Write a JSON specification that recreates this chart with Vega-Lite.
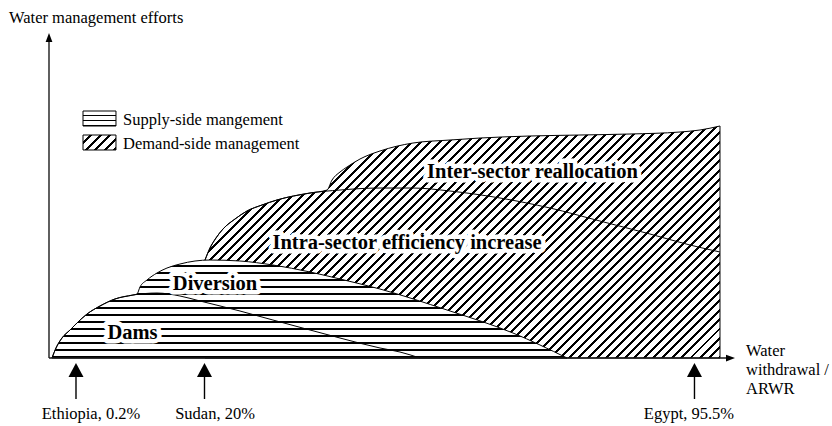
{
 "$schema": "https://vega.github.io/schema/vega-lite/v6.json",
 "width": 832, "height": 426, "autosize": {"type": "none"}, "padding": 0, "background": "#ffffff",
 "config": {"view": {"stroke": null}},
 "datasets": {
  "curves": [
   {"s":"dams","x":-3.5,"y":0},{"s":"dams","x":-2.88,"y":3.1},{"s":"dams","x":-1.96,"y":6.19},{"s":"dams","x":-0.72,"y":8.67},{"s":"dams","x":0.35,"y":10.84},{"s":"dams","x":1.9,"y":13.62},{"s":"dams","x":3.9,"y":16.1},{"s":"dams","x":6.21,"y":18.27},{"s":"dams","x":8.98,"y":19.5},{"s":"dams","x":12.68,"y":20.12},{"s":"dams","x":16.22,"y":19.2},{"s":"dams","x":19.31,"y":17.65},{"s":"dams","x":25.47,"y":14.55},{"s":"dams","x":30.55,"y":11.76},{"s":"dams","x":36.26,"y":8.67},{"s":"dams","x":40.88,"y":6.19},{"s":"dams","x":47.04,"y":3.1},{"s":"dams","x":50.12,"y":1.86},{"s":"dams","x":53.2,"y":0},
   {"s":"div","x":9.6,"y":19.81},{"s":"div","x":10.06,"y":21.98},{"s":"div","x":11.14,"y":24.15},{"s":"div","x":12.68,"y":26.32},{"s":"div","x":14.22,"y":27.86},{"s":"div","x":16.22,"y":29.1},{"s":"div","x":18.54,"y":30.03},{"s":"div","x":20.85,"y":30.34},{"s":"div","x":25.47,"y":30.03},{"s":"div","x":30.55,"y":28.79},{"s":"div","x":36.26,"y":26.63},{"s":"div","x":40.88,"y":24.46},{"s":"div","x":47.04,"y":21.36},{"s":"div","x":57.37,"y":14.86},{"s":"div","x":67.53,"y":7.74},{"s":"div","x":75.86,"y":0},
   {"s":"intra","x":20.08,"y":30.34},{"s":"intra","x":20.85,"y":34.06},{"s":"intra","x":21.77,"y":37.15},{"s":"intra","x":22.85,"y":39.94},{"s":"intra","x":24.7,"y":43.03},{"s":"intra","x":26.55,"y":45.51},{"s":"intra","x":28.86,"y":47.37},{"s":"intra","x":31.17,"y":48.92},{"s":"intra","x":36.26,"y":51.08},{"s":"intra","x":40.88,"y":52.01},{"s":"intra","x":47.04,"y":52.63},{"s":"intra","x":52.13,"y":52.63},{"s":"intra","x":57.83,"y":51.7},{"s":"intra","x":65.53,"y":49.54},{"s":"intra","x":73.24,"y":46.44},{"s":"intra","x":80.94,"y":42.41},{"s":"intra","x":88.64,"y":38.39},{"s":"intra","x":94.81,"y":34.98},{"s":"intra","x":99.43,"y":32.82},
   {"s":"inter","x":38.88,"y":52.01},{"s":"inter","x":39.65,"y":55.11},{"s":"inter","x":40.88,"y":57.59},{"s":"inter","x":41.96,"y":59.13},{"s":"inter","x":43.96,"y":61.61},{"s":"inter","x":47.04,"y":64.09},{"s":"inter","x":52.13,"y":66.56},{"s":"inter","x":57.83,"y":67.49},{"s":"inter","x":62.45,"y":68.11},{"s":"inter","x":70.15,"y":68.73},{"s":"inter","x":77.86,"y":69.04},{"s":"inter","x":85.56,"y":69.35},{"s":"inter","x":93.27,"y":69.97},{"s":"inter","x":96.35,"y":70.59},{"s":"inter","x":99.43,"y":71.83}
  ],
  "swatches": [
   {"k":"supply","x":1.28,"x2":6.36,"y":76.47,"y2":71.83},
   {"k":"demand","x":1.28,"x2":6.36,"y":69.04,"y2":64.4}
  ],
  "axes": [
   {"x":-3.96,"y":0,"x2":101.1,"y2":0},
   {"x":-3.96,"y":0,"x2":-3.96,"y2":99.1}
  ],
  "heads": [
   {"k":"y","x":-3.96,"y":99.23},
   {"k":"x","x":101.05,"y":0},
   {"k":"c","x":0.2,"y":-3.72},
   {"k":"c","x":20,"y":-3.72},
   {"k":"c","x":95.5,"y":-3.72}
  ],
  "stems": [
   {"x":0.2,"y":-5.88,"y2":-12.69},
   {"x":20,"y":-5.88,"y2":-12.69},
   {"x":95.5,"y":-5.88,"y2":-12.69}
  ],
  "bold": [
   {"t":"Dams","x":8.91,"y":7.74},
   {"t":"Diversion","x":21.62,"y":22.91},
   {"t":"Intra-sector efficiency increase","x":51.2,"y":35.6},
   {"t":"Inter-sector reallocation","x":70.54,"y":57.59}
  ],
  "plainLeft": [
   {"t":"Water management efforts","x":-10.12,"y":105.26},
   {"t":"Supply-side mangement","x":7.44,"y":73.68},
   {"t":"Demand-side management","x":7.44,"y":66.25},
   {"t":"Water","x":103.44,"y":2.17},
   {"t":"withdrawal /","x":103.44,"y":-3.72},
   {"t":"ARWR","x":103.44,"y":-9.6}
  ],
  "plainCenter": [
   {"t":"Ethiopia, 0.2%","x":2.51,"y":-17.34},
   {"t":"Sudan, 20%","x":21.62,"y":-17.34},
   {"t":"Egypt, 95.5%","x":94.65,"y":-17.34}
  ]
 },
 "encoding": {
  "x": {"field":"x","type":"quantitative","scale":{"domain":[-11.51,116.69],"nice":false,"zero":false},"axis":null},
  "y": {"field":"y","type":"quantitative","scale":{"domain":[-21.05,110.84],"nice":false,"zero":false},"axis":null}
 },
 "layer": [
  {
   "data": {"name":"curves"},
   "transform": [{"filter":"(datum.s=='intra' && datum.x<38) || datum.s=='inter'"}],
   "mark": {"type":"area","interpolate":"monotone","stroke":"#000","strokeWidth":1,"opacity":1,
    "fill": {"gradient":"linear","x1":0,"y1":0,"x2":1.2058,"y2":0.5432,"stops":[
{"offset":0,"color":"#fff"},{"offset":0.0085,"color":"#fff"},{"offset":0.0085,"color":"#000"},{"offset":0.0125,"color":"#000"},
{"offset":0.0125,"color":"#fff"},{"offset":0.021,"color":"#fff"},{"offset":0.021,"color":"#000"},{"offset":0.025,"color":"#000"},
{"offset":0.025,"color":"#fff"},{"offset":0.0335,"color":"#fff"},{"offset":0.0335,"color":"#000"},{"offset":0.0375,"color":"#000"},
{"offset":0.0375,"color":"#fff"},{"offset":0.046,"color":"#fff"},{"offset":0.046,"color":"#000"},{"offset":0.05,"color":"#000"},
{"offset":0.05,"color":"#fff"},{"offset":0.0585,"color":"#fff"},{"offset":0.0585,"color":"#000"},{"offset":0.0625,"color":"#000"},
{"offset":0.0625,"color":"#fff"},{"offset":0.071,"color":"#fff"},{"offset":0.071,"color":"#000"},{"offset":0.075,"color":"#000"},
{"offset":0.075,"color":"#fff"},{"offset":0.0835,"color":"#fff"},{"offset":0.0835,"color":"#000"},{"offset":0.0875,"color":"#000"},
{"offset":0.0875,"color":"#fff"},{"offset":0.096,"color":"#fff"},{"offset":0.096,"color":"#000"},{"offset":0.1,"color":"#000"},
{"offset":0.1,"color":"#fff"},{"offset":0.1085,"color":"#fff"},{"offset":0.1085,"color":"#000"},{"offset":0.1125,"color":"#000"},
{"offset":0.1125,"color":"#fff"},{"offset":0.121,"color":"#fff"},{"offset":0.121,"color":"#000"},{"offset":0.125,"color":"#000"},
{"offset":0.125,"color":"#fff"},{"offset":0.1335,"color":"#fff"},{"offset":0.1335,"color":"#000"},{"offset":0.1375,"color":"#000"},
{"offset":0.1375,"color":"#fff"},{"offset":0.146,"color":"#fff"},{"offset":0.146,"color":"#000"},{"offset":0.15,"color":"#000"},
{"offset":0.15,"color":"#fff"},{"offset":0.1585,"color":"#fff"},{"offset":0.1585,"color":"#000"},{"offset":0.1625,"color":"#000"},
{"offset":0.1625,"color":"#fff"},{"offset":0.171,"color":"#fff"},{"offset":0.171,"color":"#000"},{"offset":0.175,"color":"#000"},
{"offset":0.175,"color":"#fff"},{"offset":0.1835,"color":"#fff"},{"offset":0.1835,"color":"#000"},{"offset":0.1875,"color":"#000"},
{"offset":0.1875,"color":"#fff"},{"offset":0.196,"color":"#fff"},{"offset":0.196,"color":"#000"},{"offset":0.2,"color":"#000"},
{"offset":0.2,"color":"#fff"},{"offset":0.2085,"color":"#fff"},{"offset":0.2085,"color":"#000"},{"offset":0.2125,"color":"#000"},
{"offset":0.2125,"color":"#fff"},{"offset":0.221,"color":"#fff"},{"offset":0.221,"color":"#000"},{"offset":0.225,"color":"#000"},
{"offset":0.225,"color":"#fff"},{"offset":0.2335,"color":"#fff"},{"offset":0.2335,"color":"#000"},{"offset":0.2375,"color":"#000"},
{"offset":0.2375,"color":"#fff"},{"offset":0.246,"color":"#fff"},{"offset":0.246,"color":"#000"},{"offset":0.25,"color":"#000"},
{"offset":0.25,"color":"#fff"},{"offset":0.2585,"color":"#fff"},{"offset":0.2585,"color":"#000"},{"offset":0.2625,"color":"#000"},
{"offset":0.2625,"color":"#fff"},{"offset":0.271,"color":"#fff"},{"offset":0.271,"color":"#000"},{"offset":0.275,"color":"#000"},
{"offset":0.275,"color":"#fff"},{"offset":0.2835,"color":"#fff"},{"offset":0.2835,"color":"#000"},{"offset":0.2875,"color":"#000"},
{"offset":0.2875,"color":"#fff"},{"offset":0.296,"color":"#fff"},{"offset":0.296,"color":"#000"},{"offset":0.3,"color":"#000"},
{"offset":0.3,"color":"#fff"},{"offset":0.3085,"color":"#fff"},{"offset":0.3085,"color":"#000"},{"offset":0.3125,"color":"#000"},
{"offset":0.3125,"color":"#fff"},{"offset":0.321,"color":"#fff"},{"offset":0.321,"color":"#000"},{"offset":0.325,"color":"#000"},
{"offset":0.325,"color":"#fff"},{"offset":0.3335,"color":"#fff"},{"offset":0.3335,"color":"#000"},{"offset":0.3375,"color":"#000"},
{"offset":0.3375,"color":"#fff"},{"offset":0.346,"color":"#fff"},{"offset":0.346,"color":"#000"},{"offset":0.35,"color":"#000"},
{"offset":0.35,"color":"#fff"},{"offset":0.3585,"color":"#fff"},{"offset":0.3585,"color":"#000"},{"offset":0.3625,"color":"#000"},
{"offset":0.3625,"color":"#fff"},{"offset":0.371,"color":"#fff"},{"offset":0.371,"color":"#000"},{"offset":0.375,"color":"#000"},
{"offset":0.375,"color":"#fff"},{"offset":0.3835,"color":"#fff"},{"offset":0.3835,"color":"#000"},{"offset":0.3875,"color":"#000"},
{"offset":0.3875,"color":"#fff"},{"offset":0.396,"color":"#fff"},{"offset":0.396,"color":"#000"},{"offset":0.4,"color":"#000"},
{"offset":0.4,"color":"#fff"},{"offset":0.4085,"color":"#fff"},{"offset":0.4085,"color":"#000"},{"offset":0.4125,"color":"#000"},
{"offset":0.4125,"color":"#fff"},{"offset":0.421,"color":"#fff"},{"offset":0.421,"color":"#000"},{"offset":0.425,"color":"#000"},
{"offset":0.425,"color":"#fff"},{"offset":0.4335,"color":"#fff"},{"offset":0.4335,"color":"#000"},{"offset":0.4375,"color":"#000"},
{"offset":0.4375,"color":"#fff"},{"offset":0.446,"color":"#fff"},{"offset":0.446,"color":"#000"},{"offset":0.45,"color":"#000"},
{"offset":0.45,"color":"#fff"},{"offset":0.4585,"color":"#fff"},{"offset":0.4585,"color":"#000"},{"offset":0.4625,"color":"#000"},
{"offset":0.4625,"color":"#fff"},{"offset":0.471,"color":"#fff"},{"offset":0.471,"color":"#000"},{"offset":0.475,"color":"#000"},
{"offset":0.475,"color":"#fff"},{"offset":0.4835,"color":"#fff"},{"offset":0.4835,"color":"#000"},{"offset":0.4875,"color":"#000"},
{"offset":0.4875,"color":"#fff"},{"offset":0.496,"color":"#fff"},{"offset":0.496,"color":"#000"},{"offset":0.5,"color":"#000"},
{"offset":0.5,"color":"#fff"},{"offset":0.5085,"color":"#fff"},{"offset":0.5085,"color":"#000"},{"offset":0.5125,"color":"#000"},
{"offset":0.5125,"color":"#fff"},{"offset":0.521,"color":"#fff"},{"offset":0.521,"color":"#000"},{"offset":0.525,"color":"#000"},
{"offset":0.525,"color":"#fff"},{"offset":0.5335,"color":"#fff"},{"offset":0.5335,"color":"#000"},{"offset":0.5375,"color":"#000"},
{"offset":0.5375,"color":"#fff"},{"offset":0.546,"color":"#fff"},{"offset":0.546,"color":"#000"},{"offset":0.55,"color":"#000"},
{"offset":0.55,"color":"#fff"},{"offset":0.5585,"color":"#fff"},{"offset":0.5585,"color":"#000"},{"offset":0.5625,"color":"#000"},
{"offset":0.5625,"color":"#fff"},{"offset":0.571,"color":"#fff"},{"offset":0.571,"color":"#000"},{"offset":0.575,"color":"#000"},
{"offset":0.575,"color":"#fff"},{"offset":0.5835,"color":"#fff"},{"offset":0.5835,"color":"#000"},{"offset":0.5875,"color":"#000"},
{"offset":0.5875,"color":"#fff"},{"offset":0.596,"color":"#fff"},{"offset":0.596,"color":"#000"},{"offset":0.6,"color":"#000"},
{"offset":0.6,"color":"#fff"},{"offset":0.6085,"color":"#fff"},{"offset":0.6085,"color":"#000"},{"offset":0.6125,"color":"#000"},
{"offset":0.6125,"color":"#fff"},{"offset":0.621,"color":"#fff"},{"offset":0.621,"color":"#000"},{"offset":0.625,"color":"#000"},
{"offset":0.625,"color":"#fff"},{"offset":0.6335,"color":"#fff"},{"offset":0.6335,"color":"#000"},{"offset":0.6375,"color":"#000"},
{"offset":0.6375,"color":"#fff"},{"offset":0.646,"color":"#fff"},{"offset":0.646,"color":"#000"},{"offset":0.65,"color":"#000"},
{"offset":0.65,"color":"#fff"},{"offset":0.6585,"color":"#fff"},{"offset":0.6585,"color":"#000"},{"offset":0.6625,"color":"#000"},
{"offset":0.6625,"color":"#fff"},{"offset":0.671,"color":"#fff"},{"offset":0.671,"color":"#000"},{"offset":0.675,"color":"#000"},
{"offset":0.675,"color":"#fff"},{"offset":0.6835,"color":"#fff"},{"offset":0.6835,"color":"#000"},{"offset":0.6875,"color":"#000"},
{"offset":0.6875,"color":"#fff"},{"offset":0.696,"color":"#fff"},{"offset":0.696,"color":"#000"},{"offset":0.7,"color":"#000"},
{"offset":0.7,"color":"#fff"},{"offset":0.7085,"color":"#fff"},{"offset":0.7085,"color":"#000"},{"offset":0.7125,"color":"#000"},
{"offset":0.7125,"color":"#fff"},{"offset":0.721,"color":"#fff"},{"offset":0.721,"color":"#000"},{"offset":0.725,"color":"#000"},
{"offset":0.725,"color":"#fff"},{"offset":0.7335,"color":"#fff"},{"offset":0.7335,"color":"#000"},{"offset":0.7375,"color":"#000"},
{"offset":0.7375,"color":"#fff"},{"offset":0.746,"color":"#fff"},{"offset":0.746,"color":"#000"},{"offset":0.75,"color":"#000"},
{"offset":0.75,"color":"#fff"},{"offset":0.7585,"color":"#fff"},{"offset":0.7585,"color":"#000"},{"offset":0.7625,"color":"#000"},
{"offset":0.7625,"color":"#fff"},{"offset":0.771,"color":"#fff"},{"offset":0.771,"color":"#000"},{"offset":0.775,"color":"#000"},
{"offset":0.775,"color":"#fff"},{"offset":0.7835,"color":"#fff"},{"offset":0.7835,"color":"#000"},{"offset":0.7875,"color":"#000"},
{"offset":0.7875,"color":"#fff"},{"offset":0.796,"color":"#fff"},{"offset":0.796,"color":"#000"},{"offset":0.8,"color":"#000"},
{"offset":0.8,"color":"#fff"},{"offset":0.8085,"color":"#fff"},{"offset":0.8085,"color":"#000"},{"offset":0.8125,"color":"#000"},
{"offset":0.8125,"color":"#fff"},{"offset":0.821,"color":"#fff"},{"offset":0.821,"color":"#000"},{"offset":0.825,"color":"#000"},
{"offset":0.825,"color":"#fff"},{"offset":0.8335,"color":"#fff"},{"offset":0.8335,"color":"#000"},{"offset":0.8375,"color":"#000"},
{"offset":0.8375,"color":"#fff"},{"offset":0.846,"color":"#fff"},{"offset":0.846,"color":"#000"},{"offset":0.85,"color":"#000"},
{"offset":0.85,"color":"#fff"},{"offset":0.8585,"color":"#fff"},{"offset":0.8585,"color":"#000"},{"offset":0.8625,"color":"#000"},
{"offset":0.8625,"color":"#fff"},{"offset":0.871,"color":"#fff"},{"offset":0.871,"color":"#000"},{"offset":0.875,"color":"#000"},
{"offset":0.875,"color":"#fff"},{"offset":0.8835,"color":"#fff"},{"offset":0.8835,"color":"#000"},{"offset":0.8875,"color":"#000"},
{"offset":0.8875,"color":"#fff"},{"offset":0.896,"color":"#fff"},{"offset":0.896,"color":"#000"},{"offset":0.9,"color":"#000"},
{"offset":0.9,"color":"#fff"},{"offset":0.9085,"color":"#fff"},{"offset":0.9085,"color":"#000"},{"offset":0.9125,"color":"#000"},
{"offset":0.9125,"color":"#fff"},{"offset":0.921,"color":"#fff"},{"offset":0.921,"color":"#000"},{"offset":0.925,"color":"#000"},
{"offset":0.925,"color":"#fff"},{"offset":0.9335,"color":"#fff"},{"offset":0.9335,"color":"#000"},{"offset":0.9375,"color":"#000"},
{"offset":0.9375,"color":"#fff"},{"offset":0.946,"color":"#fff"},{"offset":0.946,"color":"#000"},{"offset":0.95,"color":"#000"},
{"offset":0.95,"color":"#fff"},{"offset":0.9585,"color":"#fff"},{"offset":0.9585,"color":"#000"},{"offset":0.9625,"color":"#000"},
{"offset":0.9625,"color":"#fff"},{"offset":0.971,"color":"#fff"},{"offset":0.971,"color":"#000"},{"offset":0.975,"color":"#000"},
{"offset":0.975,"color":"#fff"},{"offset":0.9835,"color":"#fff"},{"offset":0.9835,"color":"#000"},{"offset":0.9875,"color":"#000"},
{"offset":0.9875,"color":"#fff"},{"offset":0.996,"color":"#fff"},{"offset":0.996,"color":"#000"},{"offset":1,"color":"#000"}
    ]}},
   "encoding": {"y2": {"datum": 0}}
  },
  {
   "data": {"name":"curves"},
   "transform": [{"filter":"datum.s=='intra'"}],
   "mark": {"type":"line","interpolate":"monotone","stroke":"#000","strokeWidth":1,"opacity":1}
  },
  {
   "data": {"name":"curves"},
   "transform": [{"filter":"(datum.s=='dams' && datum.x<9.5) || datum.s=='div'"}],
   "mark": {"type":"area","interpolate":"monotone","stroke":"#000","strokeWidth":1,"opacity":1,
    "fill": {"gradient":"linear","x1":0,"y1":0,"x2":0,"y2":1,"stops":[
{"offset":0,"color":"#fff"},{"offset":0.051,"color":"#fff"},{"offset":0.051,"color":"#000"},{"offset":0.0714,"color":"#000"},
{"offset":0.0714,"color":"#fff"},{"offset":0.1225,"color":"#fff"},{"offset":0.1225,"color":"#000"},{"offset":0.1429,"color":"#000"},
{"offset":0.1429,"color":"#fff"},{"offset":0.1939,"color":"#fff"},{"offset":0.1939,"color":"#000"},{"offset":0.2143,"color":"#000"},
{"offset":0.2143,"color":"#fff"},{"offset":0.2653,"color":"#fff"},{"offset":0.2653,"color":"#000"},{"offset":0.2857,"color":"#000"},
{"offset":0.2857,"color":"#fff"},{"offset":0.3367,"color":"#fff"},{"offset":0.3367,"color":"#000"},{"offset":0.3571,"color":"#000"},
{"offset":0.3571,"color":"#fff"},{"offset":0.4082,"color":"#fff"},{"offset":0.4082,"color":"#000"},{"offset":0.4286,"color":"#000"},
{"offset":0.4286,"color":"#fff"},{"offset":0.4796,"color":"#fff"},{"offset":0.4796,"color":"#000"},{"offset":0.5,"color":"#000"},
{"offset":0.5,"color":"#fff"},{"offset":0.551,"color":"#fff"},{"offset":0.551,"color":"#000"},{"offset":0.5714,"color":"#000"},
{"offset":0.5714,"color":"#fff"},{"offset":0.6224,"color":"#fff"},{"offset":0.6224,"color":"#000"},{"offset":0.6429,"color":"#000"},
{"offset":0.6429,"color":"#fff"},{"offset":0.6939,"color":"#fff"},{"offset":0.6939,"color":"#000"},{"offset":0.7143,"color":"#000"},
{"offset":0.7143,"color":"#fff"},{"offset":0.7653,"color":"#fff"},{"offset":0.7653,"color":"#000"},{"offset":0.7857,"color":"#000"},
{"offset":0.7857,"color":"#fff"},{"offset":0.8367,"color":"#fff"},{"offset":0.8367,"color":"#000"},{"offset":0.8571,"color":"#000"},
{"offset":0.8571,"color":"#fff"},{"offset":0.9082,"color":"#fff"},{"offset":0.9082,"color":"#000"},{"offset":0.9286,"color":"#000"},
{"offset":0.9286,"color":"#fff"},{"offset":0.9796,"color":"#fff"},{"offset":0.9796,"color":"#000"},{"offset":1,"color":"#000"}
    ]}},
   "encoding": {"y2": {"datum": 0}}
  },
  {
   "data": {"name":"curves"},
   "transform": [{"filter":"datum.s=='dams'"}],
   "mark": {"type":"line","interpolate":"monotone","stroke":"#000","strokeWidth":1,"opacity":1}
  },
  {
   "data": {"name":"swatches"},
   "transform": [{"filter":"datum.k=='supply'"}],
   "mark": {"type":"rect","stroke":"#000","strokeWidth":1,"opacity":1,
    "fill": {"gradient":"linear","x1":0,"y1":0,"x2":0,"y2":1,"stops":[
{"offset":0,"color":"#fff"},{"offset":0.233,"color":"#fff"},{"offset":0.233,"color":"#000"},{"offset":0.333,"color":"#000"},
{"offset":0.333,"color":"#fff"},{"offset":0.567,"color":"#fff"},{"offset":0.567,"color":"#000"},{"offset":0.667,"color":"#000"},
{"offset":0.667,"color":"#fff"},{"offset":0.9,"color":"#fff"},{"offset":0.9,"color":"#000"},{"offset":1,"color":"#000"}
    ]}},
   "encoding": {"x2": {"field":"x2"}, "y2": {"field":"y2"}}
  },
  {
   "data": {"name":"swatches"},
   "transform": [{"filter":"datum.k=='demand'"}],
   "mark": {"type":"rect","stroke":"#000","strokeWidth":1,"opacity":1,
    "fill": {"gradient":"linear","x1":0,"y1":0,"x2":1.2055,"y2":0.548,"stops":[
{"offset":0,"color":"#fff"},{"offset":0.135,"color":"#fff"},{"offset":0.135,"color":"#000"},{"offset":0.2,"color":"#000"},
{"offset":0.2,"color":"#fff"},{"offset":0.335,"color":"#fff"},{"offset":0.335,"color":"#000"},{"offset":0.4,"color":"#000"},
{"offset":0.4,"color":"#fff"},{"offset":0.535,"color":"#fff"},{"offset":0.535,"color":"#000"},{"offset":0.6,"color":"#000"},
{"offset":0.6,"color":"#fff"},{"offset":0.735,"color":"#fff"},{"offset":0.735,"color":"#000"},{"offset":0.8,"color":"#000"},
{"offset":0.8,"color":"#fff"},{"offset":0.935,"color":"#fff"},{"offset":0.935,"color":"#000"},{"offset":1,"color":"#000"}
    ]}},
   "encoding": {"x2": {"field":"x2"}, "y2": {"field":"y2"}}
  },
  {
   "data": {"name":"axes"},
   "mark": {"type":"rule","stroke":"#1a1a1a","strokeWidth":1.4,"opacity":1},
   "encoding": {"x2": {"field":"x2"}, "y2": {"field":"y2"}}
  },
  {
   "data": {"name":"stems"},
   "mark": {"type":"rule","stroke":"#000","strokeWidth":1.4,"opacity":1},
   "encoding": {"y2": {"field":"y2"}}
  },
  {
   "data": {"name":"heads"},
   "transform": [{"filter":"datum.k=='y'"}],
   "mark": {"type":"point","filled":true,"fill":"#000","stroke":null,"opacity":1,"shape":"M0,-1L-0.75,1L0.75,1Z","size":81}
  },
  {
   "data": {"name":"heads"},
   "transform": [{"filter":"datum.k=='x'"}],
   "mark": {"type":"point","filled":true,"fill":"#000","stroke":null,"opacity":1,"shape":"M1,0L-1,-0.75L-1,0.75Z","size":81}
  },
  {
   "data": {"name":"heads"},
   "transform": [{"filter":"datum.k=='c'"}],
   "mark": {"type":"point","filled":true,"fill":"#000","stroke":null,"opacity":1,"shape":"M0,-1L-1.07,1L1.07,1Z","size":196}
  },
  {
   "data": {"name":"bold"},
   "mark": {"type":"text","font":"Liberation Serif","fontWeight":"bold","fontSize":20.5,"align":"center","baseline":"middle","fill":"#fff","stroke":"#fff","strokeWidth":9,"strokeJoin":"round"},
   "encoding": {"text": {"field":"t"}}
  },
  {
   "data": {"name":"bold"},
   "mark": {"type":"text","font":"Liberation Serif","fontWeight":"bold","fontSize":20.5,"align":"center","baseline":"middle","fill":"#000"},
   "encoding": {"text": {"field":"t"}}
  },
  {
   "data": {"name":"plainLeft"},
   "mark": {"type":"text","font":"Liberation Serif","fontSize":16.5,"align":"left","baseline":"middle","fill":"#000"},
   "encoding": {"text": {"field":"t"}}
  },
  {
   "data": {"name":"plainCenter"},
   "mark": {"type":"text","font":"Liberation Serif","fontSize":16.5,"align":"center","baseline":"middle","fill":"#000"},
   "encoding": {"text": {"field":"t"}}
  }
 ]
}
